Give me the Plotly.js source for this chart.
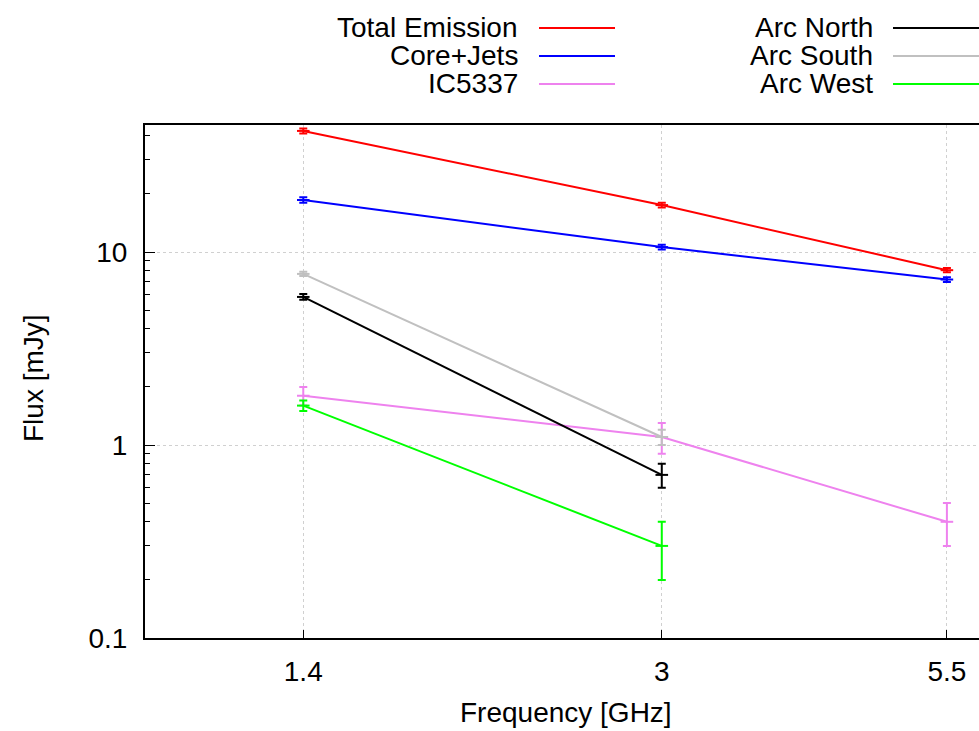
<!DOCTYPE html>
<html>
<head>
<meta charset="utf-8">
<script src="https://cdn.plot.ly/plotly-3.0.1.min.js"></script>
<style>html,body{margin:0;padding:0;overflow:hidden;background:#fff;}</style>
</head>
<body>
<div id="chart" style="width:979px;height:731px;"></div>
<script>
// Frequencies (GHz)
const freqAll = [1.4, 3, 5.5];
const freqTwo = [1.4, 3];

// Flux densities (mJy) and errors
const totalFlux = [42.4, 17.5, 8.05];
const totalErr  = [1.3, 0.5, 0.2];
const coreFlux  = [18.6, 10.6, 7.2];
const coreErr   = [0.6, 0.3, 0.2];
const icFlux    = [1.8, 1.1, 0.4];
const icErr     = [0.2, 0.2, 0.1];
const northFlux = [5.85, 0.7];
const northErr  = [0.2, 0.1];
const southFlux = [7.7, 1.1];
const southErr  = [0.2, 0.1];
const westFlux  = [1.6, 0.3];
const westErr   = [0.1, 0.1];

const seriesNames = ['Total Emission', 'Core+Jets', 'IC5337', 'Arc North', 'Arc South', 'Arc West'];
const seriesColors = ['#ff0000', '#0000ff', '#ee82ee', '#000000', '#c0c0c0', '#00ff00'];

const xTickVals = [1.4, 3, 5.5];
const xTickText = ['1.4', '3', '5.5'];
const yTickVals = [0.1, 1, 10];
const yTickText = ['0.1', '1', '10'];
const yMinorVals = [0.2,0.3,0.4,0.5,0.6,0.7,0.8,0.9,2,3,4,5,6,7,8,9,20,30,40];

const xs = [freqAll, freqAll, freqAll, freqTwo, freqTwo, freqTwo];
const ys = [totalFlux, coreFlux, icFlux, northFlux, southFlux, westFlux];
const es = [totalErr, coreErr, icErr, northErr, southErr, westErr];

const traces = seriesNames.map((name, i) => ({
  type: 'scatter',
  mode: 'lines+markers',
  name: name,
  x: xs[i],
  y: ys[i],
  line: {color: seriesColors[i], width: 2},
  marker: {symbol: 'line-ew', size: 9, color: seriesColors[i], line: {color: seriesColors[i], width: 2}},
  error_y: {type: 'data', array: es[i], visible: true, color: seriesColors[i], thickness: 2, width: 4},
  showlegend: false,
  cliponaxis: false
}));

const font = {family: 'Liberation Sans, Arial, sans-serif', size: 28, color: '#000'};

// custom gnuplot-style key: text right-aligned, sample line to the right
const plotL = 145, plotR = 979, plotT = 125, plotB = 638;
const px = v => (v - plotL) / (plotR - plotL);
const py = v => (plotB - v) / (plotB - plotT);
const keyRows = [28, 56, 84];
const keyCols = [{textR: 520, l0: 539, l1: 615}, {textR: 875, l0: 893, l1: 979}];
const annotations = [];
const shapes = [];
seriesNames.forEach((name, i) => {
  const col = keyCols[Math.floor(i / 3)];
  const row = keyRows[i % 3];
  annotations.push({
    xref: 'paper', yref: 'paper', x: px(col.textR), y: py(row),
    xanchor: 'right', yanchor: 'middle', text: name, showarrow: false, font: font
  });
  shapes.push({
    type: 'line', xref: 'paper', yref: 'paper',
    x0: px(col.l0), x1: px(col.l1), y0: py(row), y1: py(row),
    line: {color: seriesColors[i], width: 2}
  });
});
annotations.push({
  xref: 'paper', yref: 'paper', x: px(566), y: py(712),
  xanchor: 'center', yanchor: 'middle', text: 'Frequency [GHz]', showarrow: false, font: font
});
annotations.push({
  xref: 'paper', yref: 'paper', x: px(33), y: py(378),
  xanchor: 'center', yanchor: 'middle', text: 'Flux [mJy]', textangle: -90, showarrow: false, font: font
});

const layout = {
  width: 979, height: 731,
  margin: {l: plotL, r: 979 - plotR, t: plotT, b: 731 - plotB, pad: 0},
  paper_bgcolor: '#fff', plot_bgcolor: '#fff',
  font: font,
  showlegend: false,
  xaxis: {
    type: 'log', range: [0, 0.770],
    tickmode: 'array', tickvals: xTickVals, ticktext: xTickText,
    ticks: 'inside', ticklen: 8, tickwidth: 1, tickcolor: '#000',
    showline: true, linecolor: '#000', linewidth: 2, mirror: true,
    showgrid: true, gridcolor: '#d0d0d0', gridwidth: 1, griddash: 'dot',
    zeroline: false, ticklabelstandoff: 7, tickfont: font
  },
  yaxis: {
    type: 'log', range: [-1, 1.658],
    tickmode: 'array', tickvals: yTickVals, ticktext: yTickText,
    ticks: 'inside', ticklen: 10, tickwidth: 1, tickcolor: '#000',
    minor: {tickmode: 'array', tickvals: yMinorVals, ticks: 'inside', ticklen: 5, tickwidth: 1, tickcolor: '#000', showgrid: false},
    showline: true, linecolor: '#000', linewidth: 2, mirror: false,
    showgrid: true, gridcolor: '#d0d0d0', gridwidth: 1, griddash: 'dot',
    zeroline: false, ticklabelstandoff: 10, tickfont: font
  },
  annotations: annotations,
  shapes: shapes
};

Plotly.newPlot('chart', traces, layout, {displayModeBar: false, staticPlot: true});
</script>
</body>
</html>
